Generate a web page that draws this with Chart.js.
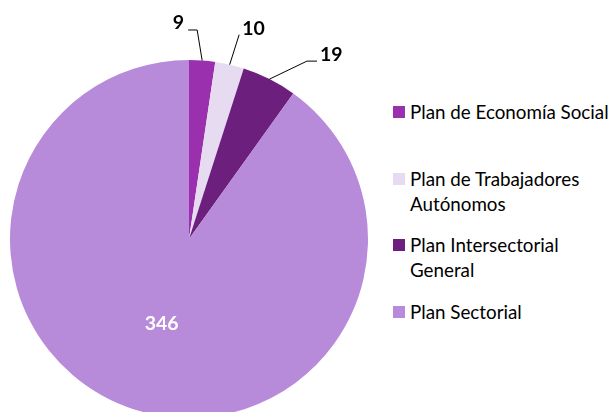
<!DOCTYPE html>
<html>
<head>
<meta charset="utf-8">
<script src="https://cdn.jsdelivr.net/npm/chart.js@4.4.1/dist/chart.umd.min.js"></script>
<style>
  html, body { margin:0; padding:0; width:609px; height:412px; overflow:hidden; background:#fff; }
  #wrap { position:relative; width:609px; height:412px; }
  #c { position:absolute; left:0; top:0; }
  #legend { position:absolute; left:393px; top:99px; font-family:Lato, "Open Sans", sans-serif; font-size:18.8px; line-height:25px; color:#000; }
  .item { position:absolute; left:0; white-space:nowrap; }
  .sw { position:absolute; left:0; top:7px; width:12px; height:12px; }
  .tx { position:absolute; left:17px; top:0; }
</style>
</head>
<body>
<div id="wrap">
  <canvas id="c" width="378" height="420"></canvas>
  <div id="legend"></div>
</div>
<script>
const categories = [
  ["Plan de Economía Social"],
  ["Plan de Trabajadores", "Autónomos"],
  ["Plan Intersectorial", "General"],
  ["Plan Sectorial"]
];
const values = [9, 10, 19, 346];
const colors = ["#9B30AE", "#E6DBF1", "#6C1F7C", "#B78ADA"];

const sliceLabels = {
  id: 'sliceLabels',
  afterDatasetsDraw(chart, args, opts) {
    const ctx = chart.ctx;
    const meta = chart.getDatasetMeta(0);
    ctx.save();
    meta.data.forEach((arc, i) => {
      const p = arc.getProps(['x','y','startAngle','endAngle','outerRadius'], true);
      const mid = (p.startAngle + p.endAngle) / 2;
      const txt = String(values[i]);
      const lead = opts.leaders[i];
      ctx.font = 'bold 19.5px Lato, "Open Sans", sans-serif';
      if (!lead) {
        const r = p.outerRadius * 0.5;
        ctx.fillStyle = '#fff';
        ctx.textAlign = 'center';
        ctx.textBaseline = 'middle';
        ctx.fillText(txt, p.x + Math.cos(mid) * r, p.y + Math.sin(mid) * r);
      } else {
        const ex = p.x + Math.cos(mid) * p.outerRadius;
        const ey = p.y + Math.sin(mid) * p.outerRadius;
        const bx = ex + lead.dx, by = ey + lead.dy;
        const tx = bx + lead.tail;
        ctx.strokeStyle = '#000';
        ctx.lineWidth = 1;
        ctx.beginPath();
        ctx.moveTo(ex, ey);
        ctx.lineTo(bx, by);
        if (lead.tail !== 0) ctx.lineTo(tx, by);
        ctx.stroke();
        ctx.fillStyle = '#000';
        ctx.textBaseline = 'alphabetic';
        if (lead.tail < 0) {
          ctx.textAlign = 'right';
          ctx.fillText(txt, tx - 4, by - 1);
        } else {
          ctx.textAlign = 'left';
          ctx.fillText(txt, tx + 3, by);
        }
      }
    });
    ctx.restore();
  }
};

new Chart(document.getElementById('c'), {
  type: 'pie',
  data: {
    labels: categories,
    datasets: [{ data: values, backgroundColor: colors, borderWidth: 0 }]
  },
  options: {
    responsive: false,
    animation: false,
    layout: { padding: { top: 60, left: 10, right: 10, bottom: 2 } },
    plugins: {
      legend: { display: false },
      tooltip: { enabled: false },
      sliceLabels: {
        leaders: {
          0: { dx: -5, dy: -30.5, tail: -9 },
          1: { dx: 9.5, dy: -30, tail: 0 },
          2: { dx: 37.5, dy: -18, tail: 10 }
        }
      }
    }
  },
  plugins: [sliceLabels]
});

const legend = document.getElementById('legend');
categories.forEach((lines, i) => {
  const item = document.createElement('div');
  item.className = 'item';
  item.style.top = (i * 66.7) + 'px';
  const sw = document.createElement('div');
  sw.className = 'sw';
  sw.style.background = colors[i];
  const tx = document.createElement('div');
  tx.className = 'tx';
  tx.innerHTML = lines.join('<br>');
  item.appendChild(sw);
  item.appendChild(tx);
  legend.appendChild(item);
});
</script>
</body>
</html>
